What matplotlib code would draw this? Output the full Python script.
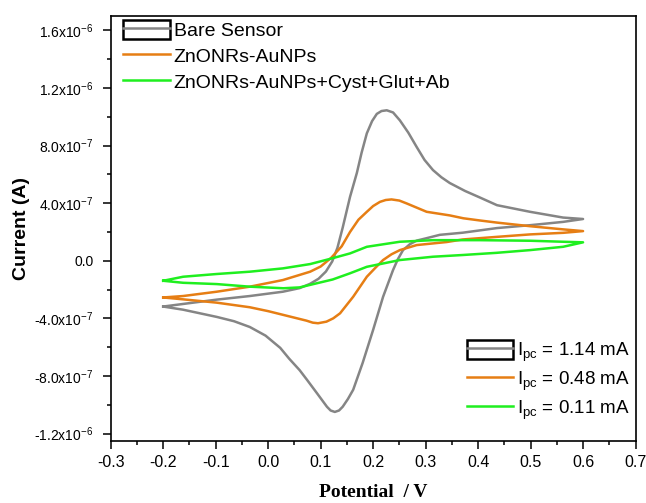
import numpy as np
import matplotlib
matplotlib.use('Agg')
import matplotlib.pyplot as plt
from matplotlib.patches import Rectangle
from matplotlib.lines import Line2D
from matplotlib.legend_handler import HandlerTuple

# cyclic voltammograms (potential in V, current in 1e-7 A)
# each loop: forward (upper) branch from -0.2 V to 0.6 V, then back along the lower branch
bare_v = [-0.2, -0.162, -0.098, -0.035, 0.028, 0.06, 0.08, 0.096, 0.11, 0.122, 0.132, 0.142,
          0.156, 0.169, 0.178, 0.188, 0.198, 0.207, 0.216, 0.226, 0.238, 0.251, 0.267,
          0.283, 0.298, 0.314, 0.33, 0.346, 0.375, 0.403, 0.436, 0.499, 0.562, 0.6,
          0.562, 0.499, 0.436, 0.371, 0.327, 0.3, 0.283, 0.27, 0.257, 0.247, 0.238,
          0.219, 0.2, 0.18, 0.162, 0.152, 0.142, 0.135, 0.127, 0.119, 0.112, 0.093,
          0.074, 0.06, 0.04, 0.023, -0.005, -0.035, -0.065, -0.098, -0.162, -0.2]
bare_i = [-3.18, -3.0, -2.7, -2.45, -2.15, -1.9, -1.6, -1.25, -0.75, -0.05, 0.9, 2.3,
          4.44, 6.1, 7.5, 8.85, 9.7, 10.2, 10.4, 10.45, 10.3, 9.75, 8.9,
          7.9, 7.0, 6.3, 5.8, 5.4, 4.85, 4.4, 3.86, 3.4, 3.0, 2.9,
          2.7, 2.47, 2.27, 1.95, 1.8, 1.55, 1.4, 1.15, 0.74, 0.1, -0.64,
          -2.5, -4.8, -7.1, -8.96, -9.6, -10.14, -10.4, -10.5, -10.4, -10.14, -9.2,
          -8.27, -7.6, -6.8, -6.05, -5.2, -4.6, -4.2, -3.9, -3.4, -3.18]

zno_v = [-0.2, -0.162, -0.098, -0.035, 0.028, 0.08, 0.1, 0.12, 0.14, 0.156, 0.172,
         0.188, 0.2, 0.213, 0.224, 0.235, 0.25, 0.264, 0.302, 0.346, 0.372, 0.403,
         0.436, 0.499, 0.562, 0.6,
         0.562, 0.499, 0.436, 0.371, 0.34, 0.283, 0.251, 0.235, 0.219, 0.204, 0.188,
         0.162, 0.137, 0.124, 0.111, 0.095, 0.085, 0.073, 0.042, 0.0, -0.035, -0.098,
         -0.162, -0.2]
zno_i = [-2.55, -2.45, -2.15, -1.8, -1.34, -0.76, -0.4, 0.2, 1.0, 2.0, 2.85,
         3.4, 3.8, 4.09, 4.22, 4.26, 4.18, 3.98, 3.4, 3.15, 2.95, 2.8,
         2.65, 2.4, 2.18, 2.06,
         1.94, 1.83, 1.66, 1.48, 1.3, 1.09, 0.74, 0.45, 0.05, -0.5, -1.11,
         -2.5, -3.65, -4.0, -4.23, -4.34, -4.3, -4.16, -3.88, -3.5, -3.23, -2.91,
         -2.68, -2.55]

ab_v = [-0.2, -0.162, -0.098, -0.035, 0.028, 0.08, 0.12, 0.156, 0.188, 0.251, 0.314,
        0.403, 0.499, 0.562, 0.6,
        0.562, 0.499, 0.435, 0.371, 0.314, 0.251, 0.188, 0.156, 0.123, 0.092, 0.06,
        0.029, -0.035, -0.098, -0.162, -0.2]
ab_i = [-1.39, -1.11, -0.92, -0.76, -0.53, -0.23, 0.15, 0.51, 0.97, 1.32, 1.43,
        1.43, 1.39, 1.32, 1.28,
        0.97, 0.74, 0.55, 0.4, 0.28, 0.05, -0.42, -0.87, -1.3, -1.57, -1.85,
        -1.91, -1.8, -1.62, -1.53, -1.39]

names = ['Bare Sensor', 'ZnONRs-AuNPs', 'ZnONRs-AuNPs+Cyst+Glut+Ab']
ipc_labels = ['I$_{pc}$ = 1.14 mA', 'I$_{pc}$ = 0.48 mA', 'I$_{pc}$ = 0.11 mA']
colors = ['#858585', '#E67E14', '#1FEF1F']

yticks = [-1.2e-6, -8e-7, -4e-7, 0, 4e-7, 8e-7, 1.2e-6, 1.6e-6]
ytick_labels = ['-1.2x10$^{-6}$', '-8.0x10$^{-7}$', '-4.0x10$^{-7}$', '0.0',
                '4.0x10$^{-7}$', '8.0x10$^{-7}$', '1.2x10$^{-6}$', '1.6x10$^{-6}$']
xticks = [-0.3, -0.2, -0.1, 0.0, 0.1, 0.2, 0.3, 0.4, 0.5, 0.6, 0.7]

plt.rcParams['font.family'] = ['Liberation Sans', 'DejaVu Sans']
plt.rcParams['mathtext.fontset'] = 'custom'
plt.rcParams['mathtext.rm'] = 'Liberation Sans'
plt.rcParams['mathtext.it'] = 'Liberation Sans:italic'
plt.rcParams['mathtext.bf'] = 'Liberation Sans:bold'
plt.rcParams['mathtext.default'] = 'regular'

fig = plt.figure(figsize=(6.46, 5.03), dpi=100)
ax = fig.add_axes([0.1714, 0.1238, 0.8124, 0.8444])

lines = []
for v, i, c in zip([bare_v, zno_v, ab_v], [bare_i, zno_i, ab_i], colors):
    ln, = ax.plot(v, np.array(i) * 1e-7, color=c, lw=1.8, solid_joinstyle='round')
    lines.append(ln)

ax.set_xlim(-0.3, 0.7)
ax.set_ylim(-1.25e-6, 1.7e-6)
ax.set_xticks(xticks)
ax.set_xticklabels(['%.1f' % t for t in xticks])
ax.set_xticks(np.arange(-0.25, 0.7, 0.1), minor=True)
ax.set_yticks(yticks)
ax.set_yticklabels(ytick_labels)
ax.set_yticks(np.arange(-1.0e-6, 1.7e-6, 4e-7), minor=True)
ax.tick_params(which='both', direction='out', top=False, right=False)
ax.tick_params(which='major', length=5.5, width=1.1)
ax.tick_params(which='minor', length=3, width=1.1)
ax.tick_params(axis='x', pad=5, labelsize=11.5)
ax.tick_params(axis='y', pad=7, labelsize=10)
for s in ax.spines.values():
    s.set_linewidth(1.2)

ax.set_ylabel('Current (A)', fontsize=14, fontweight='bold', labelpad=3)
ax.set_xlabel('Potential  / V', fontsize=14, fontweight='bold',
              family='Liberation Serif', labelpad=10)

box = Rectangle((0, 0), 1, 1, fc='white', ec='black', lw=1.8)
bare_handle = (box, Line2D([], [], color=colors[0], lw=1.8))
handles = [bare_handle, lines[1], lines[2]]

leg1 = ax.legend(handles, names, loc='upper left', bbox_to_anchor=(0.023, 0.99),
                 frameon=False, fontsize=14, borderpad=0, borderaxespad=0,
                 handlelength=2.42, handleheight=1.13, handletextpad=0.2,
                 labelspacing=0.3, handler_map={tuple: HandlerTuple(ndivide=1)})
ax.add_artist(leg1)
ax.legend(handles, ipc_labels, loc='upper left', bbox_to_anchor=(0.678, 0.236),
          frameon=False, fontsize=13.5, borderpad=0, borderaxespad=0,
          handlelength=2.5, handleheight=1.17, handletextpad=0.2,
          labelspacing=0.28, handler_map={tuple: HandlerTuple(ndivide=1)})

fig.savefig('out.png', dpi=100)
